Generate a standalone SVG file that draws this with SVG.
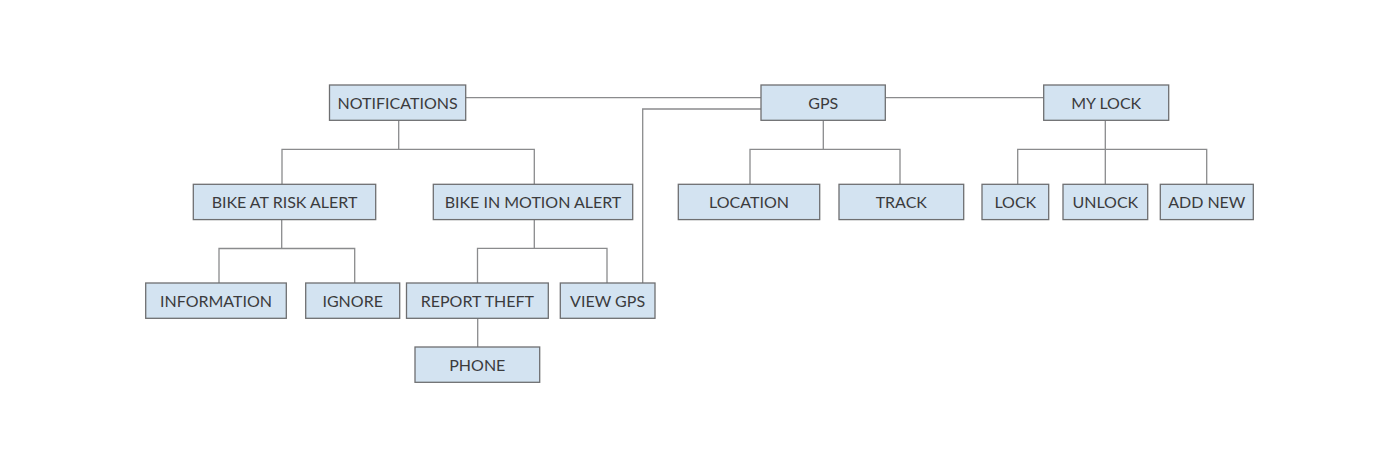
<svg xmlns="http://www.w3.org/2000/svg" width="1400" height="451" viewBox="0 0 1400 451">
<style>
.box{fill:#d3e3f1;stroke:#6e6f71;stroke-width:1.3}
.lbl{font-family:Lato,"Open Sans",sans-serif;font-size:16px;fill:#3b3b3d;text-anchor:middle}
.conn{fill:none;stroke:#8a8b8d;stroke-width:1.3}
</style>
<rect width="1400" height="451" fill="#ffffff"/>
<g id="connectors" class="conn">
<path d="M465.7,97.7 H761"/>
<path d="M885.3,97.7 H1043.7"/>
<path d="M761,109 H642.7 V283"/>
<path d="M398.7,120.3 V149.3"/>
<path d="M282,184.3 V149.3 H534.3 V184.3"/>
<path d="M281.7,219.7 V248.5"/>
<path d="M219,283 V248.5 H354.7 V283"/>
<path d="M534.3,219.7 V248.3"/>
<path d="M477.5,283 V248.3 H607 V283"/>
<path d="M477.7,318.3 V347"/>
<path d="M823.3,120.3 V149.3"/>
<path d="M750,184.3 V149.3 H900 V184.3"/>
<path d="M1105.3,120.3 V184.3"/>
<path d="M1017.7,184.3 V149.3 H1206.7 V184.3"/>
</g>
<g id="notifications"><rect class="box" x="329.5" y="85" width="136.2" height="35.3"/><text class="lbl" x="397.6" y="108.5">NOTIFICATIONS</text></g>
<g id="gps"><rect class="box" x="761" y="85" width="124.3" height="35.3"/><text class="lbl" x="823.2" y="108.5">GPS</text></g>
<g id="mylock"><rect class="box" x="1043.7" y="85" width="125" height="35.3"/><text class="lbl" x="1106.2" y="108.5">MY LOCK</text></g>
<g id="bikeatrisk"><rect class="box" x="193.3" y="184.3" width="182.4" height="35.3"/><text class="lbl" x="284.5" y="207.8">BIKE AT RISK ALERT</text></g>
<g id="bikeinmotion"><rect class="box" x="433.3" y="184.3" width="199.4" height="35.3"/><text class="lbl" x="533" y="207.8">BIKE IN MOTION ALERT</text></g>
<g id="location"><rect class="box" x="678.3" y="184.3" width="141.4" height="35.3"/><text class="lbl" x="749" y="207.8">LOCATION</text></g>
<g id="track"><rect class="box" x="839" y="184.3" width="124.7" height="35.3"/><text class="lbl" x="901.3" y="207.8">TRACK</text></g>
<g id="lock"><rect class="box" x="982" y="184.3" width="66.7" height="35.3"/><text class="lbl" x="1015.3" y="207.8">LOCK</text></g>
<g id="unlock"><rect class="box" x="1063" y="184.3" width="84.7" height="35.3"/><text class="lbl" x="1105.3" y="207.8">UNLOCK</text></g>
<g id="addnew"><rect class="box" x="1160.3" y="184.3" width="93" height="35.3"/><text class="lbl" x="1206.8" y="207.8">ADD NEW</text></g>
<g id="information"><rect class="box" x="145.7" y="283" width="140.6" height="35.3"/><text class="lbl" x="216" y="306.5">INFORMATION</text></g>
<g id="ignore"><rect class="box" x="305.7" y="283" width="94" height="35.3"/><text class="lbl" x="352.7" y="306.5">IGNORE</text></g>
<g id="reporttheft"><rect class="box" x="406.5" y="283" width="141.8" height="35.3"/><text class="lbl" x="477.4" y="306.5">REPORT THEFT</text></g>
<g id="viewgps"><rect class="box" x="560.3" y="283" width="94.7" height="35.3"/><text class="lbl" x="607.6" y="306.5">VIEW GPS</text></g>
<g id="phone"><rect class="box" x="415" y="347" width="124.7" height="35.3"/><text class="lbl" x="477.3" y="370.5">PHONE</text></g>
</svg>
